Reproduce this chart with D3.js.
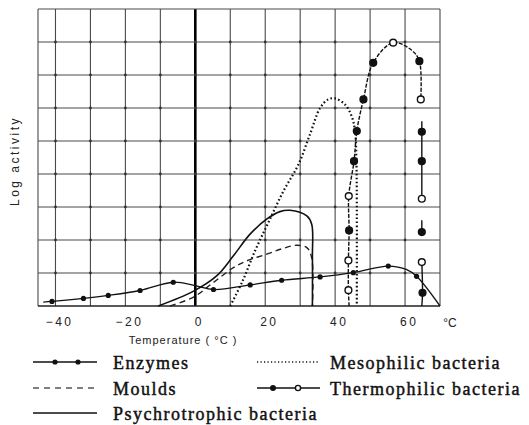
<!DOCTYPE html>
<html><head><meta charset="utf-8">
<script src="https://cdn.jsdelivr.net/npm/d3@7"></script>
<style>
html,body{margin:0;padding:0;background:#fff;}
svg{display:block;}
</style>
</head><body>
<svg id="chart" width="529" height="425"></svg>
<script>
// ---- data (temperature °C, log activity in grid units) ----
const xTicks = [-40, -20, 0, 20, 40, 60];
const xGrid = [-40, -30, -20, -10, 0, 10, 20, 30, 40, 50, 60];
const yGrid = [0, 1, 2, 3, 4, 5, 6, 7, 8, 9];
const xLabel = "Temperature ( °C )";
const yLabel = "Log activity";
const unitLabel = "°C";

// [temp, value, marker(1 = dot)]
const enzymes = [[-43.5,0.12,0],[-41,0.14,1],[-32,0.23,1],[-24.9,0.32,1],[-15.8,0.47,1],[-6.3,0.72,1],
  [0,0.62,0],[5.2,0.5,1],[15.7,0.64,1],[24.7,0.78,1],[35.7,0.88,1],[45.2,1.01,1],[55.2,1.21,1],
  [60.5,1.1,0],[63.3,0.9,1],[70,0,0]];
const moulds = [[-7.2,0],[-0.5,0.27],[5,0.7],[10.9,1.16],[15,1.38],[20.4,1.57],[25,1.74],[29,1.84],[31.9,1.77],[33.3,1.46],[33.5,0]];
const psychrotrophic = [[-10.6,0],[-0.5,0.45],[6.1,0.91],[10.9,1.52],[15.6,2.17],[20.4,2.63],[24.2,2.86],[27.1,2.9],[31.9,2.73],[33.3,2.48],[33.5,1.5],[33.5,0]];
const mesophilic = [[10,0],[13.5,0.75],[17.2,1.7],[21,2.55],[25.2,3.48],[29.5,4.29],[32.8,5.2],[35.7,6.0],[38,6.26],[40,6.29],[42.8,6.11],[44.7,5.76],[45.7,5.3],[46.1,4.3],[46.2,3.2],[46.2,0]];
// [temp, value, marker: 0 none, 1 filled, 2 open]
const thermophilicMain = [[44,0,0],[43.8,0.48,2],[43.8,1.38,2],[44,2.29,1],[43.9,3.33,2],[45.4,4.39,1],[46.2,5.3,1],
  [48.1,6.26,1],[50.9,7.37,1],[56.6,7.98,2],[61.9,7.75,0],[64.1,7.42,1],[64.5,6.26,2]];
const thermophilicUpper = [[64.8,5.6,0],[64.8,5.28,1],[64.8,4.39,1],[64.8,3.25,2]];
const thermophilicMiddle = [[64.8,2.6,0],[64.8,2.24,1]];
const thermophilicLower = [[64.8,1.33,2],[65.0,0.4,1],[64.8,0,0]];

const legendLeft = ["Enzymes", "Moulds", "Psychrotrophic bacteria"];
const legendRight = ["Mesophilic bacteria", "Thermophilic bacteria"];

// ---- drawing ----
const svg = d3.select("#chart");
const x = d3.scaleLinear().domain([-45, 70]).range([38, 440]);
const y = d3.scaleLinear().domain([0, 9]).range([306, 9]);
const ink = "#111";

const grid = svg.append("g");
grid.selectAll("line.v").data([-45, ...xGrid, 70]).join("line")
  .attr("x1", d => x(d)).attr("x2", d => x(d)).attr("y1", y(9)).attr("y2", y(0))
  .attr("stroke", d => d === 0 ? "#000" : "#4a4a4a").attr("stroke-width", d => d === 0 ? 2.6 : 1.1);
grid.selectAll("line.h").data(yGrid).join("line")
  .attr("x1", x(-45)).attr("x2", x(70)).attr("y1", d => y(d)).attr("y2", d => y(d))
  .attr("stroke", d => d === 0 ? "#222" : "#4a4a4a").attr("stroke-width", d => d === 0 ? 1.5 : 1.1);
const inter = [];
xGrid.forEach(a => yGrid.slice(1, 9).forEach(b => inter.push([a, b])));
grid.selectAll("circle").data(inter).join("circle")
  .attr("cx", d => x(d[0])).attr("cy", d => y(d[1])).attr("r", 1.4).attr("fill", "#333");

// axis
const ax = svg.append("g").attr("transform", `translate(0,${y(0)})`)
  .call(d3.axisBottom(x).tickValues(xTicks).tickSize(0).tickPadding(11).tickFormat(d3.format("d")));
ax.select(".domain").remove();
ax.selectAll("text").attr("font-family", "Liberation Sans, Arial, sans-serif").attr("font-size", 12)
  .attr("fill", "#222").attr("letter-spacing", "2.5px").attr("dx", "0.3em");
svg.append("text").attr("x", 450).attr("y", 326.5).attr("text-anchor", "middle")
  .attr("font-family", "Liberation Sans, Arial, sans-serif").attr("font-size", 12).attr("fill", "#222").text(unitLabel);
svg.append("text").attr("x", 183).attr("y", 344).attr("text-anchor", "middle")
  .attr("font-family", "Liberation Sans, Arial, sans-serif").attr("font-size", 11).attr("letter-spacing", "1px")
  .attr("fill", "#222").text(xLabel);
svg.append("text").attr("transform", "translate(19,161) rotate(-90)").attr("text-anchor", "middle")
  .attr("font-family", "Liberation Sans, Arial, sans-serif").attr("font-size", 12).attr("letter-spacing", "2.5px")
  .attr("fill", "#222").text(yLabel);

// series
const line = d3.line().x(d => x(d[0])).y(d => y(d[1])).curve(d3.curveCatmullRom.alpha(0.5));
const plot = svg.append("g");
plot.append("path").datum(enzymes).attr("d", line).attr("fill", "none").attr("stroke", ink).attr("stroke-width", 1.3);
plot.selectAll("circle.enz").data(enzymes.filter(d => d[2])).join("circle")
  .attr("cx", d => x(d[0])).attr("cy", d => y(d[1])).attr("r", 2.6).attr("fill", ink);
plot.append("path").datum(moulds).attr("d", line).attr("fill", "none").attr("stroke", "#222")
  .attr("stroke-width", 1.4).attr("stroke-dasharray", "6,4");
plot.append("path").datum(psychrotrophic).attr("d", line).attr("fill", "none").attr("stroke", ink).attr("stroke-width", 1.6);
plot.append("path").datum(mesophilic).attr("d", line).attr("fill", "none").attr("stroke", ink)
  .attr("stroke-width", 2.2).attr("stroke-dasharray", "1.6,2.4");
const thermoLine = d3.line().x(d => x(d[0])).y(d => y(d[1])).curve(d3.curveCatmullRom.alpha(0.5));
[thermophilicMain, thermophilicUpper, thermophilicMiddle, thermophilicLower].forEach(seg => {
  plot.append("path").datum(seg).attr("d", thermoLine).attr("fill", "none").attr("stroke", ink)
    .attr("stroke-width", 1.4).attr("stroke-dasharray", seg === thermophilicMain ? "4,1.5" : null);
});
const thermoPts = [...thermophilicMain, ...thermophilicUpper, ...thermophilicMiddle, ...thermophilicLower].filter(d => d[2]);
plot.selectAll("circle.th").data(thermoPts).join("circle")
  .attr("cx", d => x(d[0])).attr("cy", d => y(d[1])).attr("r", 3.4)
  .attr("fill", d => d[2] === 1 ? ink : "#fff").attr("stroke", ink).attr("stroke-width", 1.4);

// legend
const lg = svg.append("g");
const rowY = [362, 388, 413];
const txtY = [368.5, 394.5, 420];
const serif = "Liberation Serif, Times New Roman, serif";
function legendText(xp, yp, t) {
  lg.append("text").attr("x", xp).attr("y", yp).attr("font-family", serif).attr("font-size", 18)
    .attr("letter-spacing", "1.5px").attr("fill", ink).attr("stroke", ink).attr("stroke-width", 0.45).text(t);
}
legendLeft.forEach((t, i) => legendText(113, txtY[i], t));
legendRight.forEach((t, i) => legendText(330, txtY[i], t));
// samples
lg.append("line").attr("x1", 33).attr("x2", 97).attr("y1", rowY[0]).attr("y2", rowY[0]).attr("stroke", ink).attr("stroke-width", 1.4);
[55, 78].forEach(cx => lg.append("circle").attr("cx", cx).attr("cy", rowY[0]).attr("r", 2.6).attr("fill", ink));
lg.append("line").attr("x1", 33).attr("x2", 97).attr("y1", rowY[1]).attr("y2", rowY[1]).attr("stroke", "#555")
  .attr("stroke-width", 1.3).attr("stroke-dasharray", "6,5");
lg.append("line").attr("x1", 33).attr("x2", 97).attr("y1", rowY[2]).attr("y2", rowY[2]).attr("stroke", ink).attr("stroke-width", 1.4);
lg.append("line").attr("x1", 257).attr("x2", 320).attr("y1", rowY[0]).attr("y2", rowY[0]).attr("stroke", ink)
  .attr("stroke-width", 1.6).attr("stroke-dasharray", "1.2,2.3");
lg.append("line").attr("x1", 257).attr("x2", 320).attr("y1", rowY[1]).attr("y2", rowY[1]).attr("stroke", ink).attr("stroke-width", 1.4);
lg.append("circle").attr("cx", 273).attr("cy", rowY[1]).attr("r", 3).attr("fill", ink);
lg.append("circle").attr("cx", 298).attr("cy", rowY[1]).attr("r", 2.6).attr("fill", "#fff").attr("stroke", ink).attr("stroke-width", 1.4);
</script>
</body></html>
